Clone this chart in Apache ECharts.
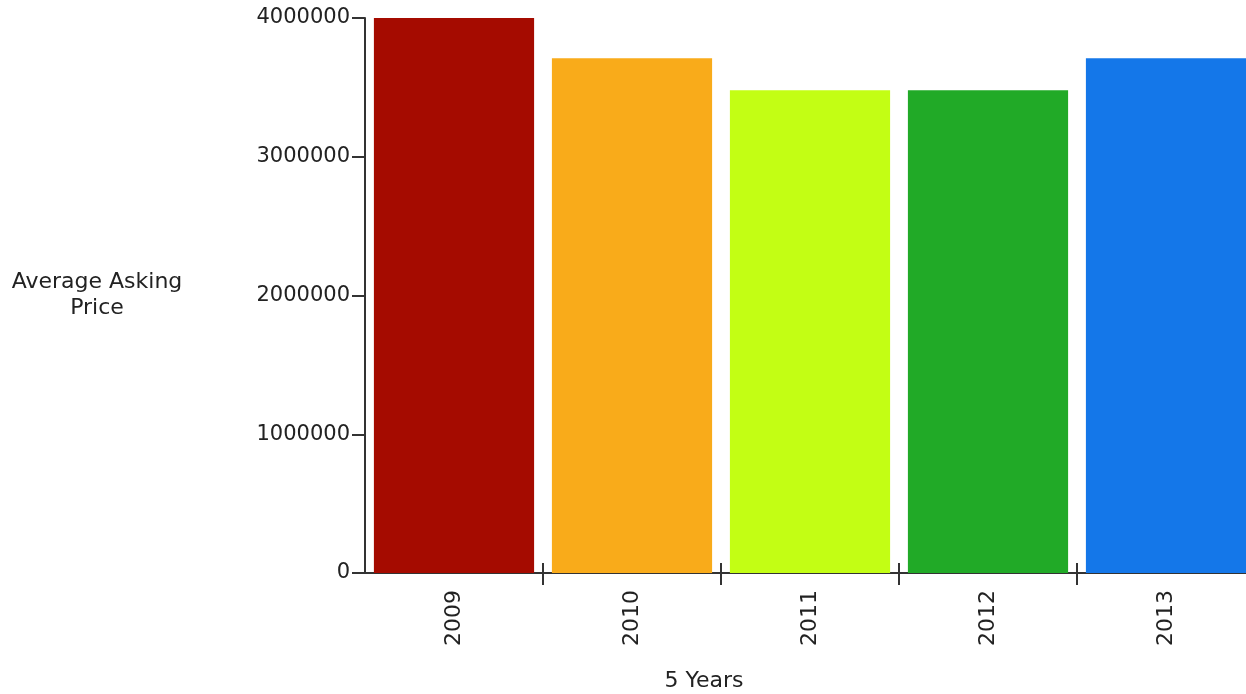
<!DOCTYPE html>
<html>
<head>
<meta charset="utf-8">
<script src="https://cdn.jsdelivr.net/npm/echarts@6/dist/echarts.min.js"></script>
<style>
  html, body { margin: 0; padding: 0; background: #fff; }
  #chart { width: 1246px; height: 694px; }
</style>
</head>
<body>
<div id="chart"></div>
<script>
const years = ["2009", "2010", "2011", "2012", "2013"];
const prices = [4000000, 3710000, 3480000, 3480000, 3710000];
const barColors = ["#a50b00", "#f9ab1a", "#c3fe14", "#21aa27", "#1477e9"];
const yTicks = [0, 1000000, 2000000, 3000000, 4000000];

const font = "Verdana, 'DejaVu Sans', sans-serif";
const axisColor = "#333";
const textColor = "#222";

let chart = echarts.init(document.getElementById("chart"));

let barData = prices.map((v, i) => ({
  value: v,
  itemStyle: { color: barColors[i] },
}));

// no tick at the origin, only between the bars
let tickEvery = (i) => i > 0;

let option = {
  animation: false,
  // the last category runs past the right edge of the picture
  grid: { left: 365, top: 18, bottom: 121, width: 890, outerBoundsMode: "none", containLabel: false },
  xAxis: [
    {
      type: "category",
      data: years,
      axisLine: { lineStyle: { color: axisColor, width: 2 } },
      axisTick: { show: true, interval: tickEvery, length: 12, lineStyle: { color: axisColor, width: 2 } },
      axisLabel: {
        rotate: 90,
        margin: 17,
        color: textColor,
        fontSize: 22,
        fontFamily: font,
      },
    },
    {
      // inner half of the crossing ticks
      type: "category",
      data: years,
      position: "bottom",
      axisLine: { show: false },
      axisTick: { show: true, inside: true, interval: tickEvery, length: 10, lineStyle: { color: axisColor, width: 2 } },
      axisLabel: { show: false },
    },
  ],
  yAxis: {
    type: "value",
    min: yTicks[0],
    max: yTicks[yTicks.length - 1],
    interval: 1000000,
    name: "Average Asking\nPrice",
    nameLocation: "middle",
    nameRotate: 0,
    nameGap: 268,
    nameTextStyle: {
      align: "center",
      color: textColor,
      fontSize: 22,
      lineHeight: 26,
      fontFamily: font,
    },
    axisLine: { show: true, lineStyle: { color: axisColor, width: 2 } },
    axisTick: { show: true, length: 13, lineStyle: { color: axisColor, width: 2 } },
    axisLabel: {
      margin: 15,
      color: textColor,
      fontSize: 21,
      fontFamily: font,
      formatter: (v) => String(v),
    },
    splitLine: { show: false },
  },
  graphic: [
    {
      type: "text",
      x: 704,
      y: 681,
      style: {
        text: "5 Years",
        fill: textColor,
        font: "22px " + font,
        textAlign: "center",
        textVerticalAlign: "middle",
      },
    },
  ],
  series: [
    {
      type: "bar",
      data: barData,
      barCategoryGap: "10%",
    },
  ],
};
chart.setOption(option);
</script>
</body>
</html>
